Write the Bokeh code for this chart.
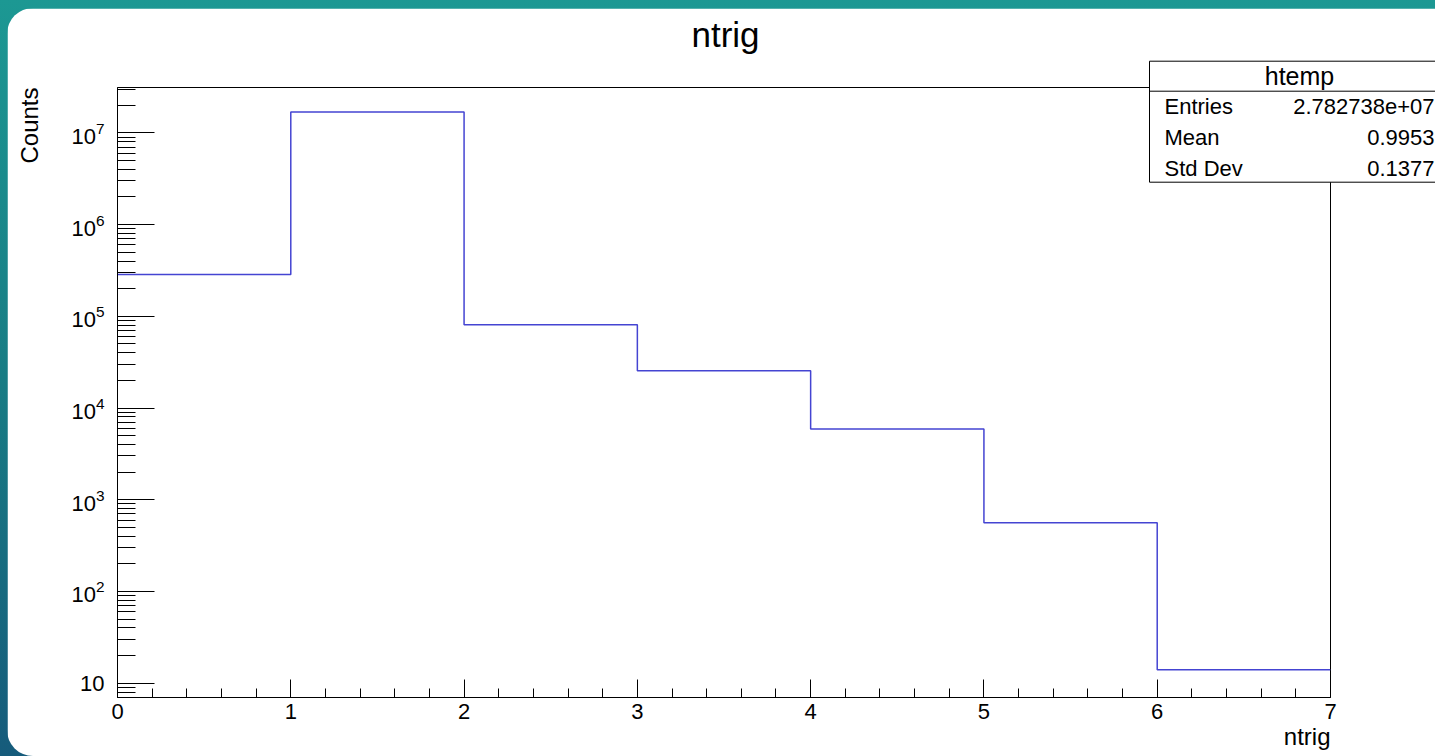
import math
from bokeh.plotting import figure
from bokeh.models import Range1d, FixedTicker, Label, LogTickFormatter
from bokeh.layouts import column
from bokeh.embed import file_html
from bokeh.resources import INLINE

# ---- data ----
bin_edges = [0, 1, 2, 3, 4, 5, 6, 7]
counts = [2.85e5, 1.69e7, 8.1e4, 2.55e4, 5.9e3, 560, 14]
x_ticks = [0, 1, 2, 3, 4, 5, 6, 7]
y_ticks = [1e1, 1e2, 1e3, 1e4, 1e5, 1e6, 1e7]
hist_name = "htemp"
stat_names = ["Entries", "Mean", "Std Dev"]
stat_values = ["2.782738e+07", "0.9953", "0.1377"]
title_text = "ntrig"
x_title = "ntrig"
y_title = "Counts"

X0, X1 = 0, 7
Y0, Y1 = 6.98, 3.12e7

FONT = "Liberation Sans"
W, H = 1428, 748
FL, FR, FT, FB = 110, 1323, 79, 689  # frame edges in canvas pixels

# ---------------- main histogram figure ----------------
p = figure(width=W, height=H, output_backend="svg", toolbar_location=None,
           y_axis_type="log", x_range=Range1d(X0, X1), y_range=Range1d(Y0, Y1),
           min_border_left=FL, min_border_right=W - FR,
           min_border_top=FT, min_border_bottom=H - FB)
p.title.visible = False
p.background_fill_color = "white"
p.border_fill_color = "white"
p.outline_line_color = "black"
p.outline_line_width = 1
p.xgrid.visible = False
p.ygrid.visible = False
p.margin = (8, 0, 0, 7)
p.styles = {"border-radius": "26px 0 0 26px", "overflow": "hidden"}

minor_x = [i / 5 for i in range(0, 36) if i % 5 != 0]
p.xaxis.ticker = FixedTicker(ticks=x_ticks, minor_ticks=minor_x)
p.xaxis.major_tick_in = 18
p.xaxis.major_tick_out = 0
p.xaxis.minor_tick_in = 9
p.xaxis.minor_tick_out = 0
p.xaxis.major_label_standoff = 6
p.xaxis.major_label_text_font = FONT
p.xaxis.major_label_text_font_size = "22px"
p.xaxis.major_label_text_color = "black"

minor_y = []
for e in range(0, 8):
    for m in range(2, 10):
        v = m * 10 ** e
        if Y0 <= v <= Y1:
            minor_y.append(v)
p.yaxis.ticker = FixedTicker(ticks=y_ticks, minor_ticks=minor_y)
p.yaxis.formatter = LogTickFormatter()
p.yaxis.major_label_overrides = {10: "10"}
p.yaxis.major_tick_in = 37
p.yaxis.major_tick_out = 0
p.yaxis.minor_tick_in = 18
p.yaxis.minor_tick_out = 0
p.yaxis.major_label_standoff = 13
p.yaxis.major_label_text_font = FONT
p.yaxis.major_label_text_font_size = "22px"
p.yaxis.major_label_text_color = "black"

for ax in (p.xaxis, p.yaxis):
    ax.axis_line_color = "black"
    ax.major_tick_line_color = "black"
    ax.minor_tick_line_color = "black"

p.step(x=bin_edges, y=counts + [counts[-1]], mode="after",
       line_color="#4444d2", line_width=1.5)

bg = column(p, styles={"background": "linear-gradient(180deg, #1c9893 0%, #187c84 50%, #165b7b 100%)"})

# ---------------- transparent overlay (separate root) for titles and the stats box ----------------
ov = figure(width=W, height=H, output_backend="svg", toolbar_location=None,
            x_range=Range1d(0, W), y_range=Range1d(H, 0),
            min_border=0, x_axis_location=None, y_axis_location=None)
ov.title.visible = False
ov.background_fill_color = None
ov.border_fill_color = None
ov.outline_line_color = None
ov.xgrid.visible = False
ov.ygrid.visible = False
ov.margin = (-H, 0, 0, 7)

ov.quad(left=[1142], right=[1460], top=[52.7], bottom=[173.7],
        fill_color="white", line_color="black", line_width=1)
ov.segment(x0=[1142], x1=[1460], y0=[82.7], y1=[82.7], line_color="black", line_width=1)

K = 0.36  # baseline correction observed in the renderer


def add_text(cx, cy, text, align, size, angle=0.0):
    d = K * size
    if angle:
        cx = cx - d
    else:
        cy = cy - d
    ov.add_layout(Label(x=cx, y=cy, text=text, text_align=align, angle=angle,
                        text_baseline="alphabetic", text_font=FONT,
                        text_font_size=f"{size}px", text_color="black"))


add_text(1292, 76, hist_name, "center", 25)
for i, (n, v) in enumerate(zip(stat_names, stat_values)):
    by = 106 + 31 * i
    add_text(1157, by, n, "left", 22)
    add_text(1427, by, v, "right", 22)

add_text(718, 39, title_text, "center", 35)
add_text(1323, 737, x_title, "right", 24)
add_text(31, 79, y_title, "right", 24, angle=math.pi / 2)

open("out.html", "w").write(file_html([bg, ov], INLINE))
